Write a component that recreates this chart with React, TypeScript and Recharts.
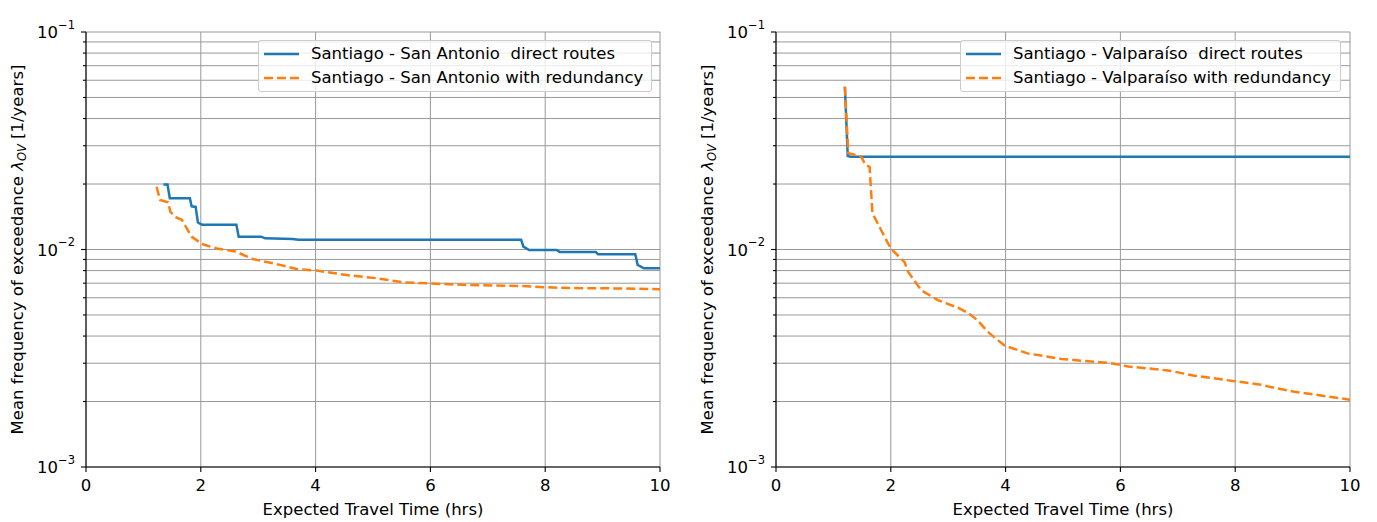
import React from "react";
import { LineChart, Line, XAxis, YAxis, CartesianGrid, Legend, Label } from "recharts";

const FONT = "DejaVu Sans";
const FS = 16.5;
const BLUE = "#1f77b4";
const ORANGE = "#ff7f0e";
const LW = 2.5;
const DASH = "9 4";

const xTicks = [0, 2, 4, 6, 8, 10];
const yTicks = [
  0.001, 0.002, 0.003, 0.004, 0.005, 0.006, 0.007, 0.008, 0.009,
  0.01, 0.02, 0.03, 0.04, 0.05, 0.06, 0.07, 0.08, 0.09, 0.1,
];

// (a) Santiago - San Antonio
const saDirect = [
  { x: 1.35, y: 0.0199 }, { x: 1.42, y: 0.0199 }, { x: 1.46, y: 0.0172 },
  { x: 1.81, y: 0.0172 }, { x: 1.84, y: 0.0158 }, { x: 1.91, y: 0.0157 },
  { x: 1.95, y: 0.0133 }, { x: 2.02, y: 0.013 }, { x: 2.62, y: 0.013 },
  { x: 2.66, y: 0.01146 }, { x: 3.05, y: 0.01146 }, { x: 3.12, y: 0.01125 },
  { x: 3.6, y: 0.01118 }, { x: 3.7, y: 0.0111 }, { x: 7.58, y: 0.0111 },
  { x: 7.62, y: 0.0103 }, { x: 7.72, y: 0.00995 }, { x: 8.2, y: 0.00995 },
  { x: 8.25, y: 0.00975 }, { x: 8.88, y: 0.00975 }, { x: 8.92, y: 0.0095 },
  { x: 9.57, y: 0.0095 }, { x: 9.61, y: 0.0085 }, { x: 9.72, y: 0.0082 },
  { x: 10, y: 0.0082 },
];
const saRedundant = [
  { x: 1.23, y: 0.0194 }, { x: 1.29, y: 0.0169 }, { x: 1.43, y: 0.0165 },
  { x: 1.47, y: 0.0149 }, { x: 1.58, y: 0.014 }, { x: 1.67, y: 0.0137 },
  { x: 1.84, y: 0.01146 }, { x: 2.02, y: 0.0106 }, { x: 2.28, y: 0.0101 },
  { x: 2.6, y: 0.0098 }, { x: 2.92, y: 0.00902 }, { x: 3.38, y: 0.0085 },
  { x: 3.67, y: 0.00813 }, { x: 4.02, y: 0.008 }, { x: 4.54, y: 0.00763 },
  { x: 5.06, y: 0.00738 }, { x: 5.53, y: 0.00706 }, { x: 6.11, y: 0.00696 },
  { x: 6.69, y: 0.00686 }, { x: 7.56, y: 0.0068 }, { x: 7.97, y: 0.00671 },
  { x: 8.43, y: 0.00665 }, { x: 9.3, y: 0.00662 }, { x: 10, y: 0.00657 },
];

// (b) Santiago - Valparaíso
const svDirect = [
  { x: 1.2, y: 0.056 }, { x: 1.25, y: 0.0269 }, { x: 1.3, y: 0.0267 },
  { x: 10, y: 0.0267 },
];
const svRedundant = [
  { x: 1.2, y: 0.056 }, { x: 1.26, y: 0.0277 }, { x: 1.48, y: 0.0268 },
  { x: 1.56, y: 0.0245 }, { x: 1.63, y: 0.024 }, { x: 1.66, y: 0.018 },
  { x: 1.68, y: 0.0147 }, { x: 1.83, y: 0.0123 }, { x: 2.0, y: 0.0101 },
  { x: 2.24, y: 0.00875 }, { x: 2.3, y: 0.0079 }, { x: 2.53, y: 0.0065 },
  { x: 2.82, y: 0.00585 }, { x: 3.17, y: 0.0054 }, { x: 3.35, y: 0.0051 },
  { x: 3.51, y: 0.00473 }, { x: 3.69, y: 0.00418 }, { x: 3.98, y: 0.00362 },
  { x: 4.38, y: 0.00333 }, { x: 4.97, y: 0.00314 }, { x: 5.84, y: 0.003 },
  { x: 6.13, y: 0.0029 }, { x: 6.83, y: 0.00278 }, { x: 7.29, y: 0.00263 },
  { x: 7.99, y: 0.00248 }, { x: 8.45, y: 0.00239 }, { x: 8.62, y: 0.00233 },
  { x: 9.03, y: 0.00222 }, { x: 9.61, y: 0.00211 }, { x: 10, y: 0.00204 },
];

const TICK_SIZE = 5;
const TICK_MARGIN = 2;

const YTick = (props: any) => {
  const { x, y, payload } = props;
  const axisX = x + TICK_SIZE + TICK_MARGIN;
  const v = payload.value;
  const lg = Math.log10(v);
  const exp = Math.round(lg);
  const major = Math.abs(lg - exp) < 1e-6;
  return (
    <g>
      <line x1={axisX - (major ? 5 : 3)} x2={axisX} y1={y} y2={y} stroke="#000" strokeWidth={1.1} />
      {major && (
        <text x={axisX - 11} y={y + 6} textAnchor="end" fontFamily={FONT} fontSize={FS} fill="#000">
          10
          <tspan dy={-9.5} fontSize={11.5}>{"\u2212" + String(-exp)}</tspan>
        </text>
      )}
    </g>
  );
};

const XLabelContent = (props: any) => {
  const vb = props.viewBox;
  return (
    <text x={vb.x + vb.width / 2} y={vb.y + 48} textAnchor="middle" fontFamily={FONT} fontSize={FS} fill="#000">
      Expected Travel Time (hrs)
    </text>
  );
};

const YLabelContent = (props: any) => {
  const vb = props.viewBox;
  const cx = 23;
  const cy = vb.y + vb.height / 2;
  return (
    <text x={cx} y={cy} textAnchor="middle" transform={`rotate(-90 ${cx} ${cy})`} fontFamily={FONT} fontSize={FS} fill="#000">
      Mean frequency of exceedance{" "}
      <tspan fontStyle="italic">λ</tspan>
      <tspan fontStyle="italic" fontSize={11.5} dy={3}>OV</tspan>
      <tspan dy={-3}> [1/years]</tspan>
    </text>
  );
};

const makeTitle = (title: string) => (props: any) => {
  const vb = props.viewBox;
  return (
    <text x={vb.x + vb.width / 2} y={vb.y - 7.5} textAnchor="middle" fontFamily={FONT} fontSize={17} fill="#000">
      {title}
    </text>
  );
};

const makeLegend = (names: string[], width: number) => () => (
  <div
    style={{
      width,
      height: 52,
      boxSizing: "border-box",
      border: "1px solid #cccccc",
      borderRadius: 3,
      background: "rgba(255,255,255,0.8)",
      fontFamily: FONT,
      fontSize: FS,
      color: "#000",
      paddingTop: 1,
    }}
  >
    {names.map((n, i) => (
      <div key={n} style={{ display: "flex", alignItems: "center", height: 24.3 }}>
        <svg width={47} height={10} style={{ flex: "none", marginLeft: 5 }}>
          <line
            x1={0}
            x2={35}
            y1={5}
            y2={5}
            stroke={i === 0 ? BLUE : ORANGE}
            strokeWidth={LW}
            strokeDasharray={i === 0 ? undefined : DASH}
          />
        </svg>
        <span style={{ whiteSpace: "pre", lineHeight: "20px" }}>{n}</span>
      </div>
    ))}
  </div>
);

type PanelProps = {
  title: string;
  direct: { x: number; y: number }[];
  redundant: { x: number; y: number }[];
  names: string[];
  legendLeft: number;
  legendWidth: number;
};

const Panel = ({ title, direct, redundant, names, legendLeft, legendWidth }: PanelProps) => (
  <LineChart width={688} height={522} margin={{ top: 32, right: 28, bottom: 0, left: 0 }}>
    <CartesianGrid stroke="#999999" strokeWidth={1} />
    <XAxis
      dataKey="x"
      type="number"
      domain={[0, 10]}
      ticks={xTicks}
      interval={0}
      allowDataOverflow
      height={55}
      tickSize={TICK_SIZE}
      tickMargin={7}
      stroke="#000"
      strokeWidth={1.1}
      tick={{ fill: "#000", fontSize: FS, fontFamily: FONT }}
    >
      <Label content={XLabelContent} />
    </XAxis>
    <XAxis
      xAxisId="top"
      orientation="top"
      type="number"
      domain={[0, 10]}
      height={0}
      tick={false}
      tickLine={false}
      stroke="#000"
      strokeWidth={1.1}
    >
      <Label content={makeTitle(title)} />
    </XAxis>
    <YAxis
      scale="log"
      type="number"
      domain={[0.001, 0.1]}
      ticks={yTicks}
      interval={0}
      allowDataOverflow
      width={86}
      tickSize={TICK_SIZE}
      tickMargin={TICK_MARGIN}
      tickLine={false}
      tick={<YTick />}
      stroke="#000"
      strokeWidth={1.1}
    >
      <Label content={YLabelContent} />
    </YAxis>
    <YAxis
      yAxisId="right"
      orientation="right"
      type="number"
      domain={[0, 1]}
      width={0}
      tick={false}
      tickLine={false}
      stroke="#000"
      strokeWidth={1.1}
    />
    <Legend
      layout="vertical"
      align="center"
      verticalAlign="middle"
      content={makeLegend(names, legendWidth)}
      wrapperStyle={{ left: legendLeft, top: 40, width: legendWidth, height: 52 }}
    />
    <Line
      data={direct}
      dataKey="y"
      name={names[0]}
      type="linear"
      stroke={BLUE}
      strokeWidth={LW}
      dot={false}
      activeDot={false}
      isAnimationActive={false}
    />
    <Line
      data={redundant}
      dataKey="y"
      name={names[1]}
      type="linear"
      stroke={ORANGE}
      strokeWidth={LW}
      strokeDasharray={DASH}
      dot={false}
      activeDot={false}
      isAnimationActive={false}
    />
  </LineChart>
);

export default function App() {
  return (
    <div style={{ position: "absolute", left: 0, top: 0, width: 1377, height: 522, background: "#fff" }}>
      <div style={{ position: "absolute", left: 0, top: 0 }}>
        <Panel
          title="(a)"
          direct={saDirect}
          redundant={saRedundant}
          names={["Santiago - San Antonio  direct routes", "Santiago - San Antonio with redundancy"]}
          legendLeft={258}
          legendWidth={394}
        />
      </div>
      <div style={{ position: "absolute", left: 690, top: 0 }}>
        <Panel
          title="(b)"
          direct={svDirect}
          redundant={svRedundant}
          names={["Santiago - Valparaíso  direct routes", "Santiago - Valparaíso with redundancy"]}
          legendLeft={270}
          legendWidth={381}
        />
      </div>
    </div>
  );
}
